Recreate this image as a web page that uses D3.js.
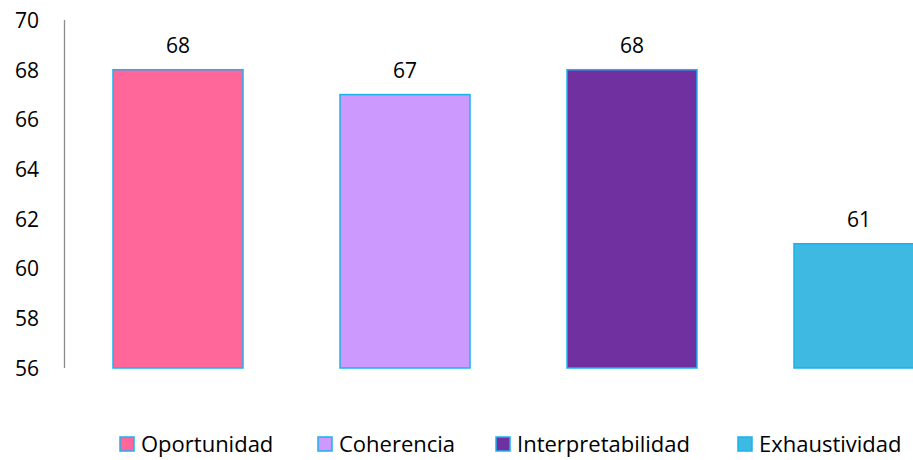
<!DOCTYPE html>
<html>
<head>
<meta charset="utf-8">
<script src="https://cdn.jsdelivr.net/npm/d3@7"></script>
<style>
  html, body { margin: 0; padding: 0; background: #fff; }
  svg { display: block; font-family: "Open Sans", Lato, sans-serif; }
</style>
</head>
<body>
<svg id="chart" width="913" height="460"></svg>
<script>
const categories = ["Oportunidad", "Coherencia", "Interpretabilidad", "Exhaustividad"];
const values = [68, 67, 68, 61];
const colors = ["#FF6699", "#CC99FF", "#7030A0", "#3DB9E2"];
const yTicks = [56, 58, 60, 62, 64, 66, 68, 70];

const fontFamily = "'Open Sans', Lato, sans-serif";
const fontSize = 21;
const legendFontSize = 22;

const svg = d3.select("#chart");
const plotLeft = 64.5, plotTop = 20, plotBottom = 368;
const step = 227;

const x = d3.scaleBand()
  .domain(categories)
  .range([plotLeft, plotLeft + step * categories.length])
  .paddingInner(97 / 227)
  .paddingOuter(48.5 / 227);

const y = d3.scaleLinear().domain([56, 70]).range([plotBottom, plotTop]);

// value axis: labels only, plus a plain vertical rule
const yAxis = d3.axisLeft(y).tickValues(yTicks).tickSize(0).tickPadding(0);
const gy = svg.append("g").attr("transform", "translate(39,0)").call(yAxis);
gy.select(".domain").remove();
gy.selectAll("text")
  .attr("font-size", fontSize)
  .attr("fill", "#000")
  .attr("font-family", fontFamily)
  .attr("dy", "0.35em");

svg.append("line")
  .attr("x1", plotLeft).attr("x2", plotLeft)
  .attr("y1", y(70)).attr("y2", y(56))
  .attr("stroke", "#8c8c8c").attr("stroke-width", 1.3);

// bars
svg.append("g").selectAll("rect")
  .data(categories)
  .join("rect")
  .attr("x", d => x(d))
  .attr("width", x.bandwidth())
  .attr("y", (d, i) => y(values[i]))
  .attr("height", (d, i) => y(56) - y(values[i]))
  .attr("fill", (d, i) => colors[i])
  .attr("stroke", "#1AB2EE")
  .attr("stroke-width", 1.5);

// value labels
svg.append("g").selectAll("text")
  .data(categories)
  .join("text")
  .attr("x", d => x(d) + x.bandwidth() / 2)
  .attr("y", (d, i) => y(values[i]) - 17)
  .attr("text-anchor", "middle")
  .attr("font-size", fontSize)
  .attr("font-family", fontFamily)
  .attr("fill", "#000")
  .text((d, i) => values[i]);

// legend
const legendX = [120, 318, 496, 738];
const lg = svg.append("g").selectAll("g")
  .data(categories)
  .join("g")
  .attr("transform", (d, i) => `translate(${legendX[i]},437)`);
lg.append("rect")
  .attr("width", 14).attr("height", 14)
  .attr("fill", (d, i) => colors[i])
  .attr("stroke", "#1AB2EE").attr("stroke-width", 1.5);
lg.append("text")
  .attr("x", 21).attr("y", 7)
  .attr("dy", "0.35em")
  .attr("font-size", legendFontSize)
  .attr("font-family", fontFamily)
  .attr("fill", "#000")
  .text(d => d);
</script>
</body>
</html>
